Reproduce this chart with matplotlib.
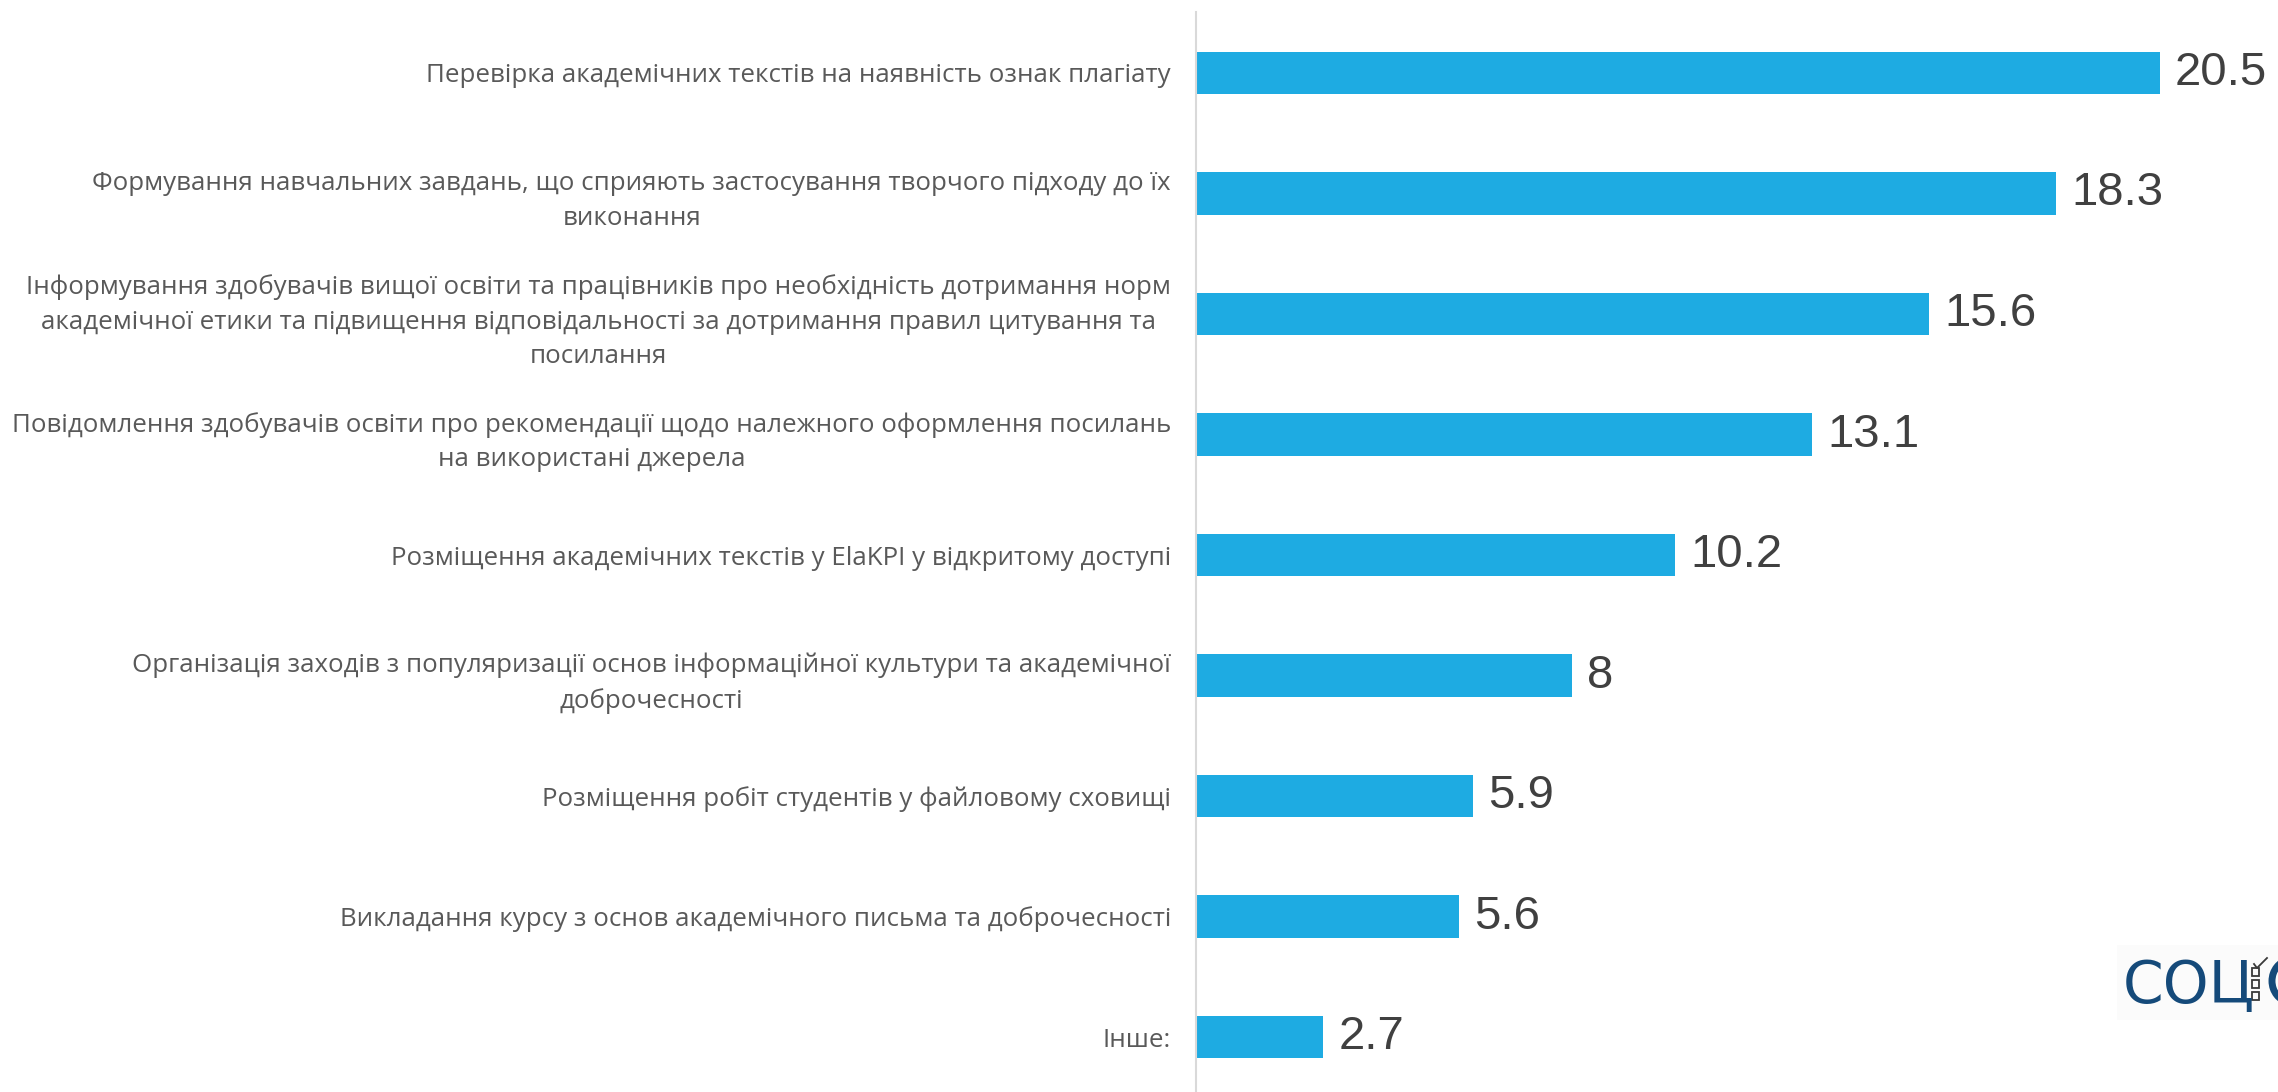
import matplotlib
matplotlib.use("Agg")
import matplotlib.pyplot as plt
from matplotlib.patches import Rectangle, Arc
from matplotlib.lines import Line2D

categories = [
    "Перевірка академічних текстів на наявність ознак плагіату",
    "Формування навчальних завдань, що сприяють застосування творчого підходу до їх\nвиконання",
    "Інформування здобувачів вищої освіти та працівників про необхідність дотримання норм\nакадемічної етики та підвищення відповідальності за дотримання правил цитування та\nпосилання",
    "Повідомлення здобувачів освіти про рекомендації щодо належного оформлення посилань\nна використані джерела",
    "Розміщення академічних текстів у ElaKPI у відкритому доступі",
    "Організація заходів з популяризації основ інформаційної культури та академічної\nдоброчесності",
    "Розміщення робіт студентів у файловому сховищі",
    "Викладання курсу з основ академічного письма та доброчесності",
    "Інше:",
]
values = [20.5, 18.3, 15.6, 13.1, 10.2, 8, 5.9, 5.6, 2.7]
value_labels = ["20.5", "18.3", "15.6", "13.1", "10.2", "8", "5.9", "5.6", "2.7"]

W, H = 2278, 1092
fig = plt.figure(figsize=(W / 100, H / 100), dpi=100)
fig.patch.set_facecolor("white")

ax = fig.add_axes([1196 / W, 0, 1034 / W, 1080 / H])
n = len(values)
ypos = list(range(n))
ax.barh(ypos, values, height=0.35, color="#1EABE2", edgecolor="none")
ax.set_xlim(0, 22)
ax.set_ylim(n - 1 + 0.456, -0.506)

for y, v, lab in zip(ypos, values, value_labels):
    ax.annotate(lab, xy=(v, y), xytext=(11, 0), textcoords="offset points",
                ha="left", va="center", fontsize=34, color="#404040",
                family="Liberation Sans")

ax.set_yticks(ypos)
ax.set_yticklabels(categories, fontsize=18.6, color="#595959", family="Open Sans",
                   multialignment="center", linespacing=1.5)
ax.tick_params(axis="y", length=0, pad=18)
ax.tick_params(axis="x", bottom=False, labelbottom=False)
for s in ["top", "right", "bottom"]:
    ax.spines[s].set_visible(False)
ax.spines["left"].set_color("#d9d9d9")
ax.spines["left"].set_linewidth(1.5)

# logo (partially cropped at right edge)
fig.patches.append(Rectangle((2117 / W, 1 - 1020 / H), 161 / W, 75 / H,
                             transform=fig.transFigure, facecolor="#fbfbfb",
                             edgecolor="none", zorder=0))
fig.text(2123 / W, 1 - 1003 / H, "СОЦ", fontsize=42, color="#154a7a",
         family="DejaVu Sans", ha="left", va="baseline")
for i in range(3):
    yb = 1 - (968 + i * 12 + 8) / H
    fig.patches.append(Rectangle((2252 / W, yb), 7 / W, 8 / H,
                                 transform=fig.transFigure, facecolor="none",
                                 edgecolor="#3a3a3a", linewidth=1.3))
fig.lines.append(Line2D([2254 / W, 2257 / W, 2267 / W],
                        [1 - 964 / H, 1 - 968 / H, 1 - 958 / H],
                        transform=fig.transFigure, color="#3a3a3a", linewidth=1.3))
fig.patches.append(Arc((2293 / W, 1 - 981 / H), 42 / W, 44 / H, theta1=40, theta2=320,
                       transform=fig.transFigure, color="#154a7a", linewidth=5))

fig.savefig("out.png", dpi=100)
